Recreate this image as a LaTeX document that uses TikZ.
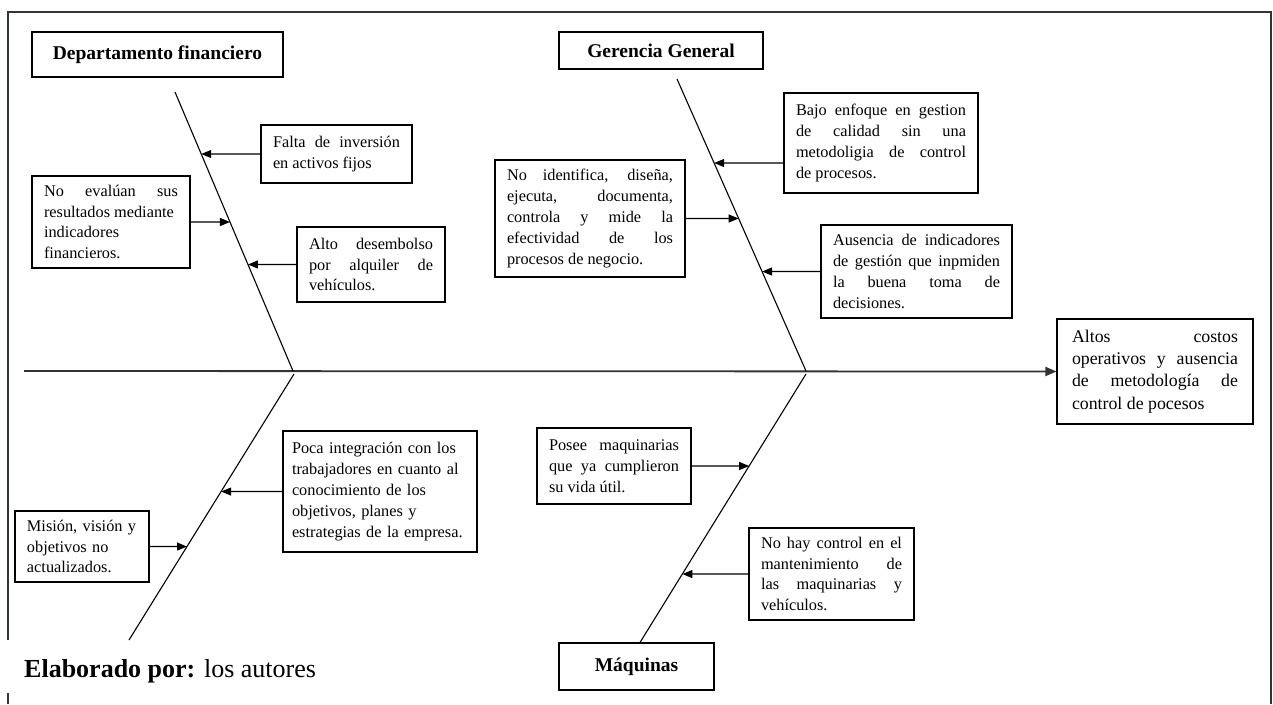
\documentclass[tikz,border=0pt]{standalone}
\usepackage{fontspec}
\setmainfont{Liberation Serif}
\usetikzlibrary{arrows.meta,calc}
\tolerance=9999
\hbadness=10000
\hyphenpenalty=10000
\exhyphenpenalty=10000
\definecolor{frameclr}{RGB}{45,52,58}

\begin{document}
\begin{tikzpicture}[x=1pt,y=-1pt,
  cause/.style={draw, line width=1.1pt, fill=white, align=justify,
    inner xsep=12pt, inner ysep=3pt,
    font=\fontsize{16.3}{20.8}\selectfont},
  causeleft/.style={cause, align=left},
  category/.style={draw, line width=1.1pt, inner sep=0pt,
    font=\bfseries\fontsize{19.5}{23}\selectfont},
  bone/.style={line width=1.1pt},
  spine/.style={line width=1.8pt, draw=black!80},
  arr/.style={line width=1.1pt, -{Triangle[length=10pt,width=8pt]}},
  frame/.style={line width=1.6pt, draw=frameclr}]

\useasboundingbox (0,0) rectangle (1273,704);

% outer frame
\draw[frame] (8,640) -- (8,12) -- (1271,12) -- (1271,704);
\draw[frame] (8,693) -- (8,704);

% categories
\node[category, minimum width=251pt, minimum height=45pt] (DF) at (157.5,54.5) {Departamento financiero};
\node[category, minimum width=204pt, minimum height=37pt] (GG) at (661,50.5) {Gerencia General};
\node[category, minimum width=155pt, minimum height=47pt] (MQ) at (636.5,666.5) {Máquinas};

% effect
\node[cause, font=\fontsize{17.8}{22.3}\selectfont, text width=166pt, inner xsep=15pt,
  minimum height=105pt] (EF) at (1155,371.5)
  {Altos costos\linebreak operativos y ausencia\linebreak de metodología de\linebreak control de pocesos};

% causes
\node[cause, text width=127pt, minimum height=58pt] (c1) at (336.5,154)
  {Falta de inversión\linebreak en activos fijos};
\node[cause, text width=134pt, minimum height=92pt] (c2) at (111,222)
  {No evalúan sus\linebreak resultados mediante\newline indicadores\newline financieros.};
\node[cause, text width=124pt, minimum height=75pt] (c3) at (371,264.5)
  {Alto desembolso\linebreak por alquiler de\linebreak vehículos.};
\node[cause, text width=166pt, minimum height=117pt] (c4) at (590,218.5)
  {No identifica, diseña,\linebreak ejecuta, documenta,\linebreak controla y mide la\linebreak efectividad de los\linebreak procesos de negocio.};
\node[cause, text width=170pt, minimum height=100pt] (c5) at (881,143)
  {Bajo enfoque en gestion\linebreak de calidad sin una\linebreak metodoligia de control\linebreak de procesos.};
\node[cause, text width=167pt, minimum height=93pt] (c6) at (916.5,271.5)
  {Ausencia de indicadores\linebreak de gestión que inpmiden\linebreak la buena toma de\linebreak decisiones.};
\node[causeleft, text width=176pt, inner xsep=9pt, minimum height=121pt] (c7) at (380,491.5)
  {Poca integración con los\\ trabajadores en cuanto al\\ conocimiento de los\\ objetivos, planes y\\ estrategias de la empresa.};
\node[causeleft, text width=110pt, minimum height=71pt] (c8) at (82,546.5)
  {Misión, visión y\\ objetivos no\\ actualizados.};
\node[cause, text width=130pt, minimum height=76pt] (c9) at (614,466)
  {Posee maquinarias\linebreak que ya cumplieron\linebreak su vida útil.};
\node[cause, text width=141pt, minimum height=92pt] (c10) at (831.5,574)
  {No hay control en el\linebreak mantenimiento de\linebreak las maquinarias y\linebreak vehículos.};

% bone end points
\coordinate (sp0) at (24,371);
\coordinate (ulT) at (175,92);
\coordinate (ulB) at (293,371);
\coordinate (llT) at (294,374);
\coordinate (llB) at (129,640);
\coordinate (urT) at (677,79);
\coordinate (urB) at (806,371);
\coordinate (lrT) at (806,374);
\coordinate (lrB) at (MQ.north -| 640,0);

% spine and bones
\draw[spine, -{Triangle[length=11pt,width=9pt]}] (sp0) -- (EF.west);
\draw[bone] (ulT) -- (ulB);
\draw[bone] (llT) -- (llB);
\draw[bone] (urT) -- (urB);
\draw[bone] (lrT) -- (lrB);

% cause arrows
\coordinate (c5a) at ($(c5.west)+(0,20)$);
\coordinate (c5b) at ($(c5a)+(10,0)$);
\draw[arr] (c1.west) -- (intersection of ulT--ulB and c1.west--c1.east);
\draw[arr] (c2.east) -- (intersection of ulT--ulB and c2.west--c2.east);
\draw[arr] (c3.west) -- (intersection of ulT--ulB and c3.west--c3.east);
\draw[arr] (c4.east) -- (intersection of urT--urB and c4.west--c4.east);
\draw[arr] (c5a) -- (intersection of urT--urB and c5a--c5b);
\draw[arr] (c6.west) -- (intersection of urT--urB and c6.west--c6.east);
\draw[arr] (c7.west) -- (intersection of llT--llB and c7.west--c7.east);
\draw[arr] (c8.east) -- (intersection of llT--llB and c8.west--c8.east);
\draw[arr] (c9.east) -- (intersection of lrT--lrB and c9.west--c9.east);
\draw[arr] (c10.west) -- (intersection of lrT--lrB and c10.west--c10.east);

% credit line
\node[anchor=base west, inner sep=0pt, font=\fontsize{26}{30}\selectfont] (credit) at (24,677)
  {\textbf{Elaborado por:} los autores};
\end{tikzpicture}
\end{document}
